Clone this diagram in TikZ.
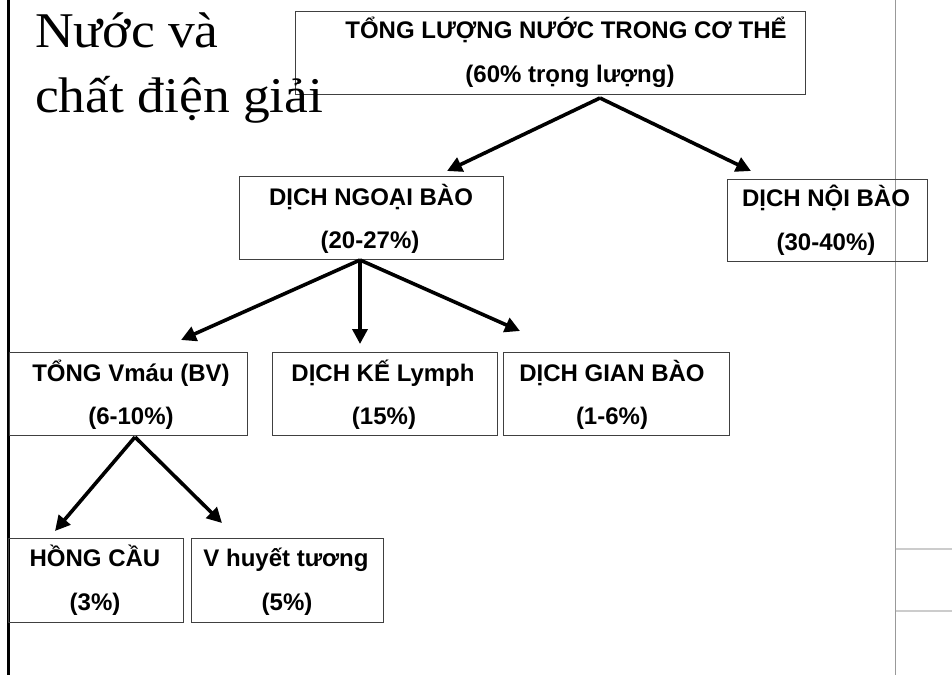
\documentclass[tikz,border=0pt]{standalone}
\usepackage{fontspec}
\setmainfont{Liberation Sans}
\newfontfamily\titlefont[FakeStretch=1.07]{Liberation Serif}
\usetikzlibrary{arrows.meta}
\definecolor{boxline}{HTML}{404040}
\tikzset{
  box/.style={draw=boxline, line width=1.1pt, rectangle, inner sep=0pt, anchor=north west},
  lbl/.style={inner sep=0pt, anchor=base, font=\fontsize{24}{28}\selectfont\bfseries},
  ttl/.style={inner sep=0pt, anchor=base west, font=\titlefont\fontsize{50}{60}\selectfont},
  arr/.style={line width=3.6pt, -{Triangle[length=15pt,width=15pt]}}
}
\begin{document}
\begin{tikzpicture}[x=1pt,y=-1pt]
\useasboundingbox (0,0) rectangle (952,675);
% frame lines
\coordinate (lt) at (8.5,0);
\coordinate (lb) at (8.5,675);
\draw[line width=3pt, black] (lt) -- (lb);
\coordinate (rt) at (895.5,0);
\coordinate (rb) at (895.5,675);
\draw[line width=1pt, black!40] (rt) -- (rb);
\coordinate (h1a) at (895.5,549);
\coordinate (h1b) at (952,549);
\coordinate (h2a) at (895.5,611);
\coordinate (h2b) at (952,611);
\draw[line width=1.4pt, black!20] (h1a) -- (h1b);
\draw[line width=1.4pt, black!20] (h2a) -- (h2b);

% boxes
\node[box, minimum width=510pt, minimum height=83pt] (tot) at (295,11) {};
\node[box, minimum width=264pt, minimum height=83pt] (ngoai) at (239,176) {};
\node[box, minimum width=200pt, minimum height=82pt] (noi) at (727,179) {};
\node[box, minimum width=238pt, minimum height=83pt] (mau) at (9,352) {};
\node[box, minimum width=225pt, minimum height=83pt] (ke) at (272,352) {};
\node[box, minimum width=226pt, minimum height=83pt] (gian) at (503,352) {};
\node[box, minimum width=175pt, minimum height=84pt] (hong) at (8,538) {};
\node[box, minimum width=192pt, minimum height=84pt] (huyet) at (191,538) {};

% texts
\node[lbl] (totA) at (566,38) {TỔNG LƯỢNG NƯỚC TRONG CƠ THỂ};
\node[lbl] (totB) at (570,82) {(60\% trọng lượng)};
\node[lbl] (ngoaiA) at (371,205) {DỊCH NGOẠI BÀO};
\node[lbl] (ngoaiB) at (370,248) {(20-27\%)};
\node[lbl] (noiA) at (826,206) {DỊCH NỘI BÀO};
\node[lbl] (noiB) at (826,250) {(30-40\%)};
\node[lbl] (mauA) at (131,381) {TỔNG Vmáu (BV)};
\node[lbl] (mauB) at (131,424) {(6-10\%)};
\node[lbl] (keA) at (383,381) {DỊCH KẾ Lymph};
\node[lbl] (keB) at (384,424) {(15\%)};
\node[lbl] (gianA) at (612,381) {DỊCH GIAN BÀO};
\node[lbl] (gianB) at (612,424) {(1-6\%)};
\node[lbl] (hongA) at (95,566) {HỒNG CẦU};
\node[lbl] (hongB) at (95,610) {(3\%)};
\node[lbl] (huyetA) at (286,566) {V huyết tương};
\node[lbl] (huyetB) at (287,610) {(5\%)};

% title
\node[ttl] (t1) at (35,47) {Nước và};
\node[ttl] (t2) at (35,112) {chất điện giải};

% arrows
\coordinate (s1) at (600,98);
\coordinate (e1) at (447,171);
\coordinate (e2) at (751,171);
\draw[arr] (s1) -- (e1);
\draw[arr] (s1) -- (e2);
\coordinate (s2) at (360,260);
\coordinate (e3) at (181,340);
\coordinate (e4) at (360,344);
\coordinate (e5) at (520,331);
\draw[arr] (s2) -- (e3);
\draw[arr] (s2) -- (e4);
\draw[arr] (s2) -- (e5);
\coordinate (s3) at (135,437);
\coordinate (e6) at (55,531);
\coordinate (e7) at (222,523);
\draw[arr] (s3) -- (e6);
\draw[arr] (s3) -- (e7);
\end{tikzpicture}
\end{document}
